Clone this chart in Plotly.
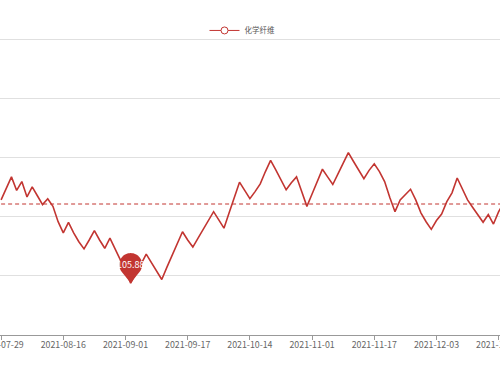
import math
import numpy as np
import pandas as pd
import plotly.graph_objects as go

# ---- data ----
series_name = "化学纤维"
holidays = ["2021-09-20", "2021-09-21", "2021-10-01", "2021-10-04",
            "2021-10-05", "2021-10-06", "2021-10-07"]
all_days = pd.bdate_range("2021-07-29", "2021-12-22")
dates = [d.strftime("%Y-%m-%d") for d in all_days if d.strftime("%Y-%m-%d") not in holidays]

values = [
    107.29, 107.48, 107.68, 107.45, 107.60, 107.34, 107.51, 107.36, 107.21, 107.31,
    107.18, 106.92, 106.73, 106.91, 106.73, 106.58, 106.46, 106.61, 106.77, 106.61,
    106.47, 106.64, 106.46, 106.27, 106.09, 105.88, 106.03, 106.20, 106.37, 106.23,
    106.08, 105.94, 106.15, 106.35, 106.55, 106.75, 106.61, 106.49, 106.64, 106.79,
    106.94, 107.09, 106.95, 106.81, 107.07, 107.33, 107.59, 107.45, 107.31, 107.43,
    107.56, 107.77, 107.96, 107.80, 107.63, 107.46, 107.58, 107.68, 107.43, 107.18,
    107.39, 107.60, 107.81, 107.68, 107.55, 107.73, 107.90, 108.09, 107.94, 107.79,
    107.65, 107.79, 107.90, 107.77, 107.60, 107.33, 107.09, 107.29, 107.38, 107.47,
    107.29, 107.07, 106.92, 106.79, 106.94, 107.05, 107.26, 107.41, 107.66, 107.46,
    107.29, 107.16, 107.03, 106.91, 107.04, 106.88, 107.09, 107.24,
]
dates = dates[:len(values)]
average_value = 107.22          # markLine average
tick_labels = dates[::12]
y_grid = [105, 106, 107, 108, 109, 110]

color = "#c23531"

fig = go.Figure()
fig.add_trace(go.Scatter(
    x=dates, y=values, mode="lines", showlegend=False,
    line=dict(color=color, width=1.6), hoverinfo="skip",
))
# average line
fig.add_trace(go.Scatter(
    x=[dates[0], dates[-1]], y=[average_value, average_value], mode="lines",
    showlegend=False, line=dict(color=color, width=1, dash="4px,3px"), hoverinfo="skip",
))
# legend entry
fig.add_trace(go.Scatter(
    x=[None], y=[None], mode="lines+markers", name=series_name,
    line=dict(color=color, width=1),
    marker=dict(symbol="circle", size=7, color="white", line=dict(color=color, width=1)),
))

# min pin marker
imin = int(np.argmin(values))
r = 11.5
cy = 18.5
alpha = math.acos(r / cy)
start = -(math.pi / 2 - alpha)
end = math.pi + (math.pi / 2 - alpha)
pts = ["M0,0"]
n = 40
for i in range(n + 1):
    t = start + (end - start) * i / n
    pts.append("L%.2f,%.2f" % (r * math.cos(t), cy + r * math.sin(t)))
pts.append("Z")
fig.add_shape(
    type="path", path=" ".join(pts), xref="x", yref="y",
    xsizemode="pixel", ysizemode="pixel", xanchor=imin, yanchor=values[imin],
    fillcolor=color, line=dict(width=0), layer="above",
)
fig.add_annotation(
    x=dates[imin], y=values[imin], text="%.2f" % values[imin], showarrow=False,
    yshift=cy, font=dict(color="white", size=9, family="Noto Sans CJK SC"),
)

fig.update_layout(
    width=500, height=375,
    margin=dict(l=0, r=0, t=37, b=40, autoexpand=False),
    paper_bgcolor="white", plot_bgcolor="white",
    font=dict(family="Noto Sans CJK SC", color="#666"),
    legend=dict(orientation="h", x=0.485, xanchor="center", y=1.022, yanchor="middle",
                bgcolor="rgba(0,0,0,0)",
                font=dict(size=7.5, color="#555"), itemwidth=30),
    xaxis=dict(
        type="category", range=[-0.212, 96.26], tickmode="array", tickvals=tick_labels,
        showgrid=False, showline=True, linecolor="#999", linewidth=1,
        ticks="outside", ticklen=4, tickcolor="#999", automargin=False,
        ticklabelstandoff=-3,
        tickfont=dict(size=8.8, color="#666"), zeroline=False,
    ),
    yaxis=dict(
        range=[105, 110.05], tickmode="array", tickvals=y_grid,
        showgrid=True, gridcolor="#e0e0e0",
        showticklabels=False, zeroline=False, showline=False, ticks="", automargin=False,
    ),
)

fig.write_html(
    "out.html",
    config={"displayModeBar": False, "staticPlot": True},
    post_script="document.body.style.margin='0';document.body.style.overflow='hidden';",
)
